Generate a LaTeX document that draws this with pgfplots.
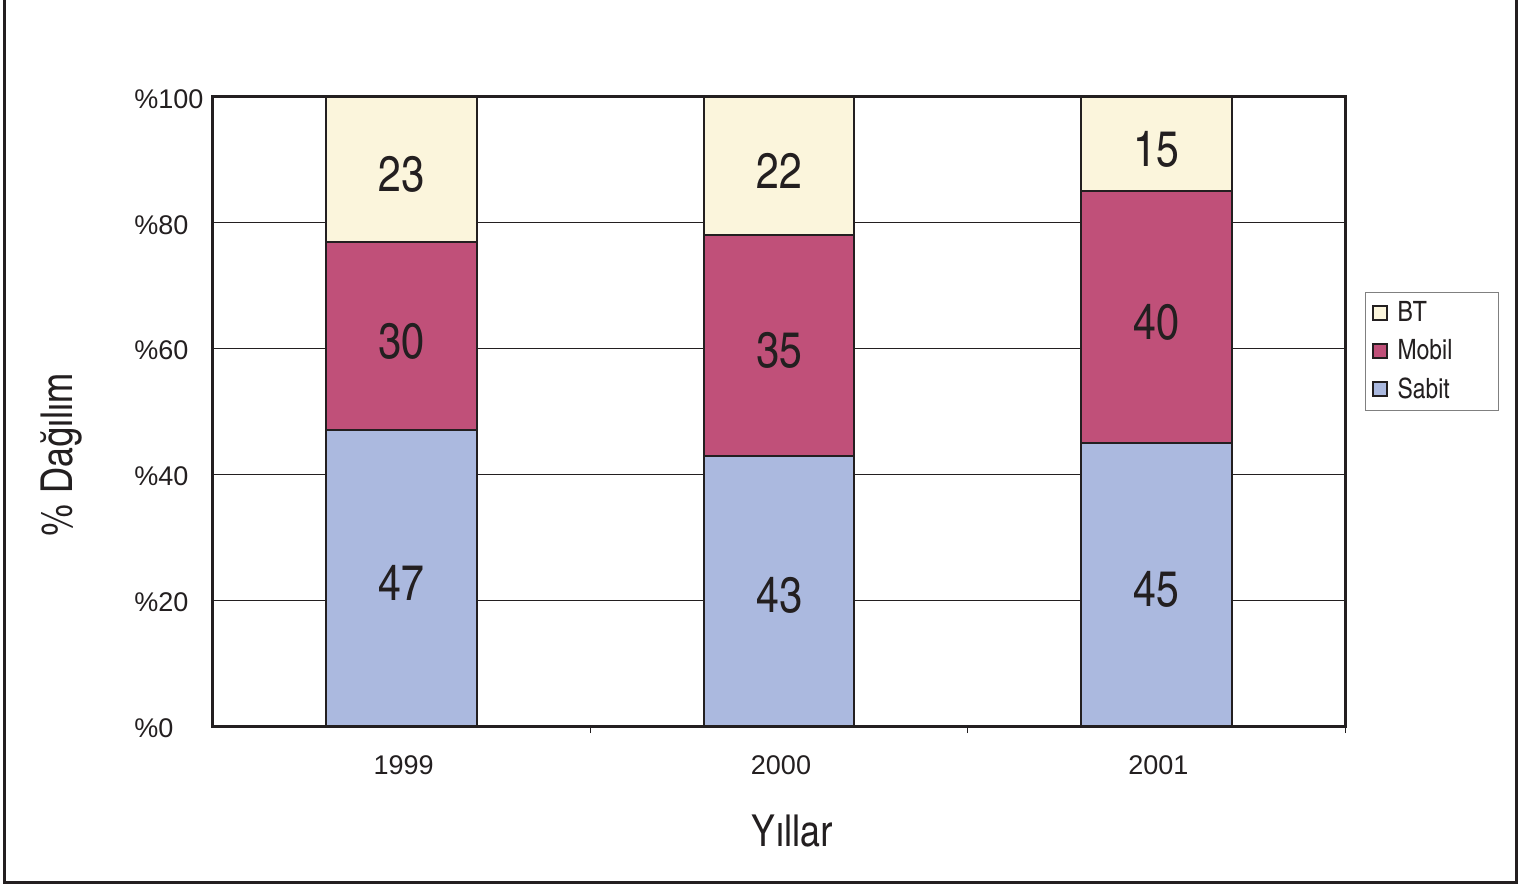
\documentclass[border=0pt]{standalone}
\usepackage{fontspec}
\setmainfont{Liberation Sans}
\IfFontExistsTF{TeX Gyre Heros Cn}{\newfontfamily\condfont{TeX Gyre Heros Cn}}{%
  \IfFontExistsTF{texgyreheroscn-regular.otf}{\newfontfamily\condfont{texgyreheroscn-regular.otf}}{%
    \newfontfamily\condfont{DejaVu Sans Condensed}}}
\usepackage{pgfplots}
\usepackage{pgfplotstable}
\pgfplotsset{compat=1.18}
\definecolor{sabit}{HTML}{ABB9DF}
\definecolor{mobil}{HTML}{C05079}
\definecolor{bt}{HTML}{FBF5DC}
\definecolor{ink}{HTML}{231F20}
\pgfplotstableread{
x y
0 47
1 43
2 45
}\sabit
\pgfplotstableread{
x y
0 30
1 35
2 40
}\mobil
\pgfplotstableread{
x y
0 23
1 22
2 15
}\bt
\pgfplotsset{
  seglabels/.style={
    point meta=explicit symbolic,
    nodes near coords,
    every node near coord/.append style={anchor=center, yshift=-2.5pt,
      font=\condfont\fontsize{25}{25}\selectfont, text=ink},
  },
}
\begin{document}
\begin{tikzpicture}
\useasboundingbox (0pt,0pt) rectangle (769pt,442.5pt);
\draw[line width=1.5pt, color=ink] (2pt,443pt) -- (2pt,1.5pt) -- (758pt,1.5pt) -- (758pt,443pt);
\begin{axis}[
  at={(106.5pt,79.5pt)}, anchor=south west,
  scale only axis, width=566pt, height=314.5pt,
  ybar stacked, bar width=0.4,
  xmin=-0.5, xmax=2.5, ymin=0, ymax=100,
  enlargelimits=false,
  axis line style={line width=1.5pt, color=ink},
  xtick={0,1,2}, xticklabels={1999,2000,2001},
  minor xtick={0.5,1.5,2.5},
  major tick length=0pt, minor tick length=3.5pt,
  tick align=outside, xtick pos=left, ytick pos=left,
  tick style={ink, line width=0.5pt},
  ytick={0,20,40,60,80,100},
  yticklabel={\%\pgfmathprintnumber{\tick}},
  ymajorgrids, grid style={ink, line width=0.5pt},
  /pgf/number format/assume math mode=true,
  tick label style={font=\fontsize{13.5}{13.5}\selectfont, color=ink, inner sep=0pt},
  yticklabel style={anchor=west, xshift=-39.5pt, yshift=-1pt},
  xticklabel style={anchor=north, yshift=-14.5pt, xshift=1pt},
  xlabel={Yıllar}, ylabel={\% Dağılım},
  label style={font=\condfont\fontsize{22}{22}\selectfont, color=ink},
  xlabel style={at={(axis description cs:0.5115,-0.1669)}, anchor=center},
  ylabel style={at={(axis description cs:-0.1343,0.431)}, anchor=center},
  reverse legend,
  legend image code/.code={\draw[#1, draw=ink, line width=1pt] (0pt,-3.5pt) rectangle (7pt,3.5pt);},
  legend style={at={(1.0177,0.596)}, anchor=west, draw=gray, line width=0.5pt,
    font=\condfont\fontsize{14}{14}\selectfont, text=ink, row sep=3.5pt, column sep=3pt,
    inner xsep=3pt, inner ysep=2.5pt, cells={anchor=west}},
]
\addplot[fill=sabit, draw=ink, line width=1pt, seglabels] table[x=x, y=y, meta=y] {\sabit};
\addlegendentry{\makebox[45.5pt][l]{Sabit}}
\addplot[fill=mobil, draw=ink, line width=1pt, seglabels] table[x=x, y=y, meta=y] {\mobil};
\addlegendentry{\makebox[45.5pt][l]{Mobil}}
\addplot[fill=bt, draw=ink, line width=1pt, seglabels] table[x=x, y=y, meta=y] {\bt};
\addlegendentry{\makebox[45.5pt][l]{BT}}
\end{axis}
\end{tikzpicture}
\end{document}
